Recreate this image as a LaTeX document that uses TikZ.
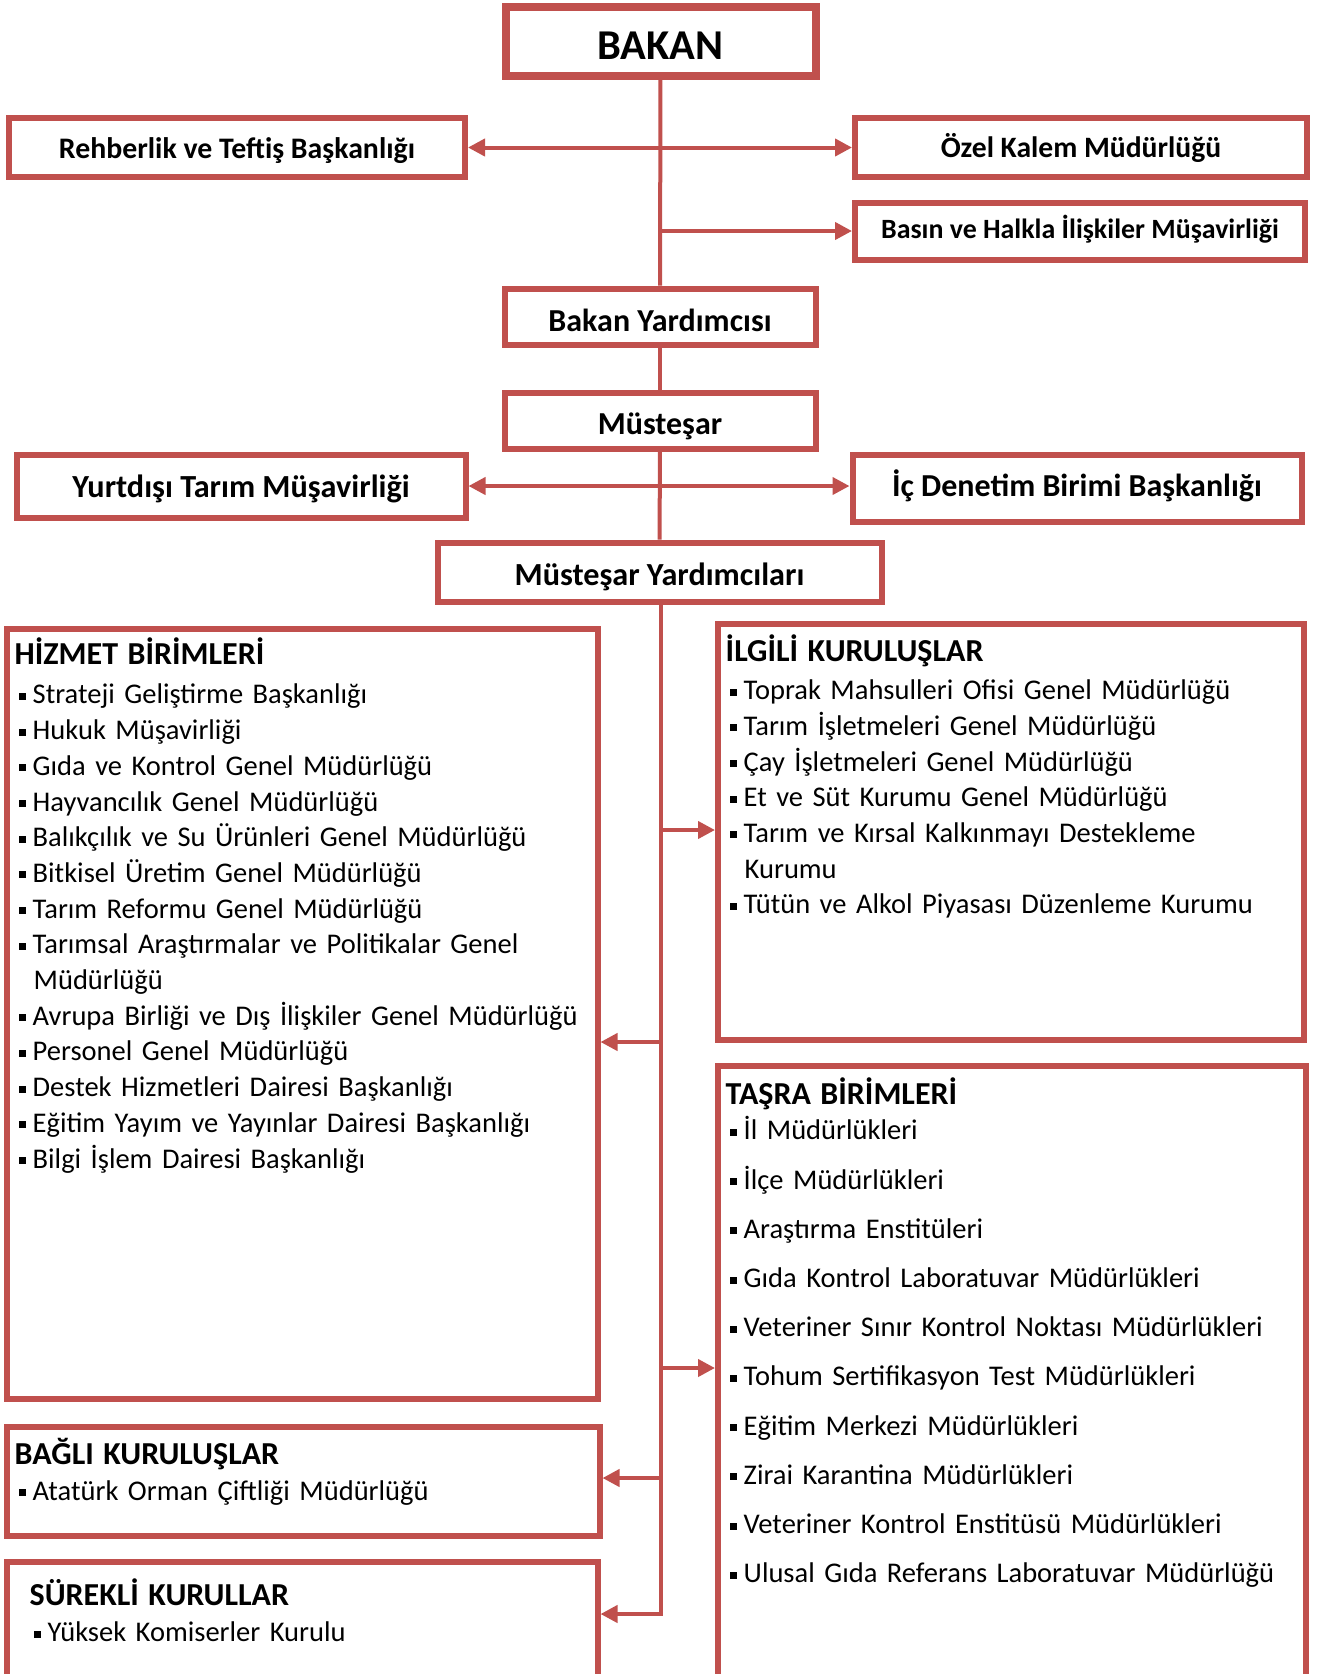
\documentclass[tikz,border=0pt]{standalone}
\usepackage{fontspec}
\setmainfont{Carlito}
\usetikzlibrary{arrows.meta}
\definecolor{mred}{HTML}{C0504D}
\tikzset{unit/.style = {draw=mred, line width=6pt, fill=white, inner sep=0pt, align=center,
                        text height=30pt, text depth=4pt}}
\tikzset{group/.style = {draw=mred, line width=6pt, inner sep=0pt}}
\tikzset{entries/.style = {anchor=north west, inner sep=0pt, text width=575pt, align=left,
                           font=\fontsize{28.5}{35.7}\selectfont}}
\tikzset{link/.style = {line width=4pt, mred}}
\tikzset{feed/.style = {link, -{Triangle[length=17pt, width=17pt]}}}
\tikzset{feedboth/.style = {link, {Triangle[length=17pt, width=17pt]}-{Triangle[length=17pt, width=17pt]}}}
\newcommand{\bsz}[1]{\bfseries\fontsize{#1}{#1}\selectfont}
\newcommand{\heading}[1]{{\fontsize{32}{35.7}\selectfont\bfseries #1}}
\newcommand{\blt}{\makebox[18pt][l]{\hspace{4pt}\rule[4pt]{7pt}{7pt}}}
\newcommand{\cont}{\hspace*{19pt}}

\begin{document}
\begin{tikzpicture}[x=1pt, y=-1pt]
    \useasboundingbox (0, 0) rectangle (1317, 1674);

    \node [unit, line width=8pt, minimum width=310pt, minimum height=69pt, font=\bsz{42.5}, text height=42pt, text depth=5pt] (bakan) at (660.5, 41) {BAKAN};
    \node [unit, minimum width=456pt, minimum height=59pt, font=\bsz{29.8}, text height=28.4pt, text depth=6pt] (rehberlik) at (237, 147.5) {Rehberlik ve Teftiş Başkanlığı};
    \node [unit, minimum width=452pt, minimum height=59pt, font=\bsz{29.6}, text height=26pt, text depth=6pt] (ozel) at (1081, 147.5) {Özel Kalem Müdürlüğü};
    \node [unit, minimum width=450pt, minimum height=57pt, font=\bsz{27.9}, text height=21pt, text depth=6pt] (basin) at (1080, 231) {Basın ve Halkla İlişkiler Müşavirliği};
    \node [unit, minimum width=311pt, minimum height=56pt, font=\bsz{32}, text depth=0pt] (bakanyrd) at (660, 316.5) {Bakan Yardımcısı};
    \node [unit, minimum width=311pt, minimum height=56pt, font=\bsz{32}, text depth=2pt] (mustesar) at (660, 420.5) {Müsteşar};
    \node [unit, minimum width=449pt, minimum height=63pt, font=\bsz{32.2}, text height=29.4pt, text depth=6pt] (yurtdisi) at (241, 486) {Yurtdışı Tarım Müşavirliği};
    \node [unit, minimum width=449pt, minimum height=67pt, font=\bsz{32}, text height=22pt, text depth=6pt] (icdenetim) at (1077, 488) {İç Denetim Birimi Başkanlığı};
    \node [unit, minimum width=444pt, minimum height=59pt, font=\bsz{32.2}] (mustyrd) at (659.5, 572) {Müsteşar Yardımcıları};

    \node [group, minimum width=590.5pt, minimum height=770pt] (hizmet) at (302.25, 1013.5) {};
    \node [group, minimum width=585.7pt, minimum height=416pt] (ilgili) at (1010.85, 832) {};
    \node [group, minimum width=587.7pt, minimum height=624pt] (tasra) at (1011.85, 1378) {};
    \node [group, minimum width=592.5pt, minimum height=109pt] (bagli) at (303.25, 1481) {};
    \node [group, minimum width=590.5pt, minimum height=128.5pt] (surekli) at (302.25, 1625.75) {};

    \node [entries] (hizmetlist) at ([shift={(10.5, 12.5)}] hizmet.north west) {\strut\heading{HİZMET BİRİMLERİ}\\[3.3pt]
        \blt Strateji Geliştirme Başkanlığı\\
        \blt Hukuk Müşavirliği\\
        \blt Gıda ve Kontrol Genel Müdürlüğü\\
        \blt Hayvancılık Genel Müdürlüğü\\
        \blt Balıkçılık ve Su Ürünleri Genel Müdürlüğü\\
        \blt Bitkisel Üretim Genel Müdürlüğü\\
        \blt Tarım Reformu Genel Müdürlüğü\\
        \blt Tarımsal Araştırmalar ve Politikalar Genel\\
        \cont Müdürlüğü\\
        \blt Avrupa Birliği ve Dış İlişkiler Genel Müdürlüğü\\
        \blt Personel Genel Müdürlüğü\\
        \blt Destek Hizmetleri Dairesi Başkanlığı\\
        \blt Eğitim Yayım ve Yayınlar Dairesi Başkanlığı\\
        \blt Bilgi İşlem Dairesi Başkanlığı};
    \node [entries] (ilgililist) at ([shift={(10.5, 14)}] ilgili.north west) {\strut\heading{İLGİLİ KURULUŞLAR}\\[2pt]
        \blt Toprak Mahsulleri Ofisi Genel Müdürlüğü\\
        \blt Tarım İşletmeleri Genel Müdürlüğü\\
        \blt Çay İşletmeleri Genel Müdürlüğü\\
        \blt Et ve Süt Kurumu Genel Müdürlüğü\\
        \blt Tarım ve Kırsal Kalkınmayı Destekleme\\
        \cont Kurumu\\
        \blt Tütün ve Alkol Piyasası Düzenleme Kurumu};
    \node [entries, font=\fontsize{28.5}{49.2}\selectfont] (tasralist) at ([shift={(10.5, 15)}] tasra.north west) {\rule{0pt}{25pt}\heading{TAŞRA BİRİMLERİ}\\[-14.2pt]
        \blt İl Müdürlükleri\\
        \blt İlçe Müdürlükleri\\
        \blt Araştırma Enstitüleri\\
        \blt Gıda Kontrol Laboratuvar Müdürlükleri\\
        \blt Veteriner Sınır Kontrol Noktası Müdürlükleri\\
        \blt Tohum Sertifikasyon Test Müdürlükleri\\
        \blt Eğitim Merkezi Müdürlükleri\\
        \blt Zirai Karantina Müdürlükleri\\
        \blt Veteriner Kontrol Enstitüsü Müdürlükleri\\
        \blt Ulusal Gıda Referans Laboratuvar Müdürlüğü};
    \node [entries] (baglilist) at ([shift={(10.5, 14.5)}] bagli.north west) {\strut\heading{BAĞLI KURULUŞLAR}\\
        \blt Atatürk Orman Çiftliği Müdürlüğü};
    \node [entries] (sureklilist) at ([shift={(25.5, 20.5)}] surekli.north west) {\strut\heading{SÜREKLİ KURULLAR}\\
        \blt Yüksek Komiserler Kurulu};

    \draw [link] (bakan) -- (bakanyrd);
    \draw [link] (bakanyrd) -- (mustesar);
    \draw [link] (mustesar) -- (mustyrd);
    \draw [feedboth] (rehberlik.east) -- (ozel.west);
    \draw [feedboth] (yurtdisi.east) -- (yurtdisi.east -| icdenetim.west);
    \coordinate (basinfork) at (662, 231);
    \draw [feed] (basinfork) -- (basin.west);

    \coordinate (ilgilifork) at (661, 830);
    \coordinate (hizmetfork) at (661, 1042);
    \coordinate (tasrafork) at (661, 1368);
    \coordinate (baglifork) at (661, 1478);
    \coordinate (sureklifork) at (661, 1614);
    \draw [feed] (mustyrd.south -| sureklifork) -- (sureklifork) -- (sureklifork -| surekli.east);
    \draw [feed] (ilgilifork) -- (ilgilifork -| ilgili.west);
    \draw [feed] (hizmetfork) -- (hizmetfork -| hizmet.east);
    \draw [feed] (tasrafork) -- (tasrafork -| tasra.west);
    \draw [feed] (baglifork) -- (baglifork -| bagli.east);
  \end{tikzpicture}
\end{document}
